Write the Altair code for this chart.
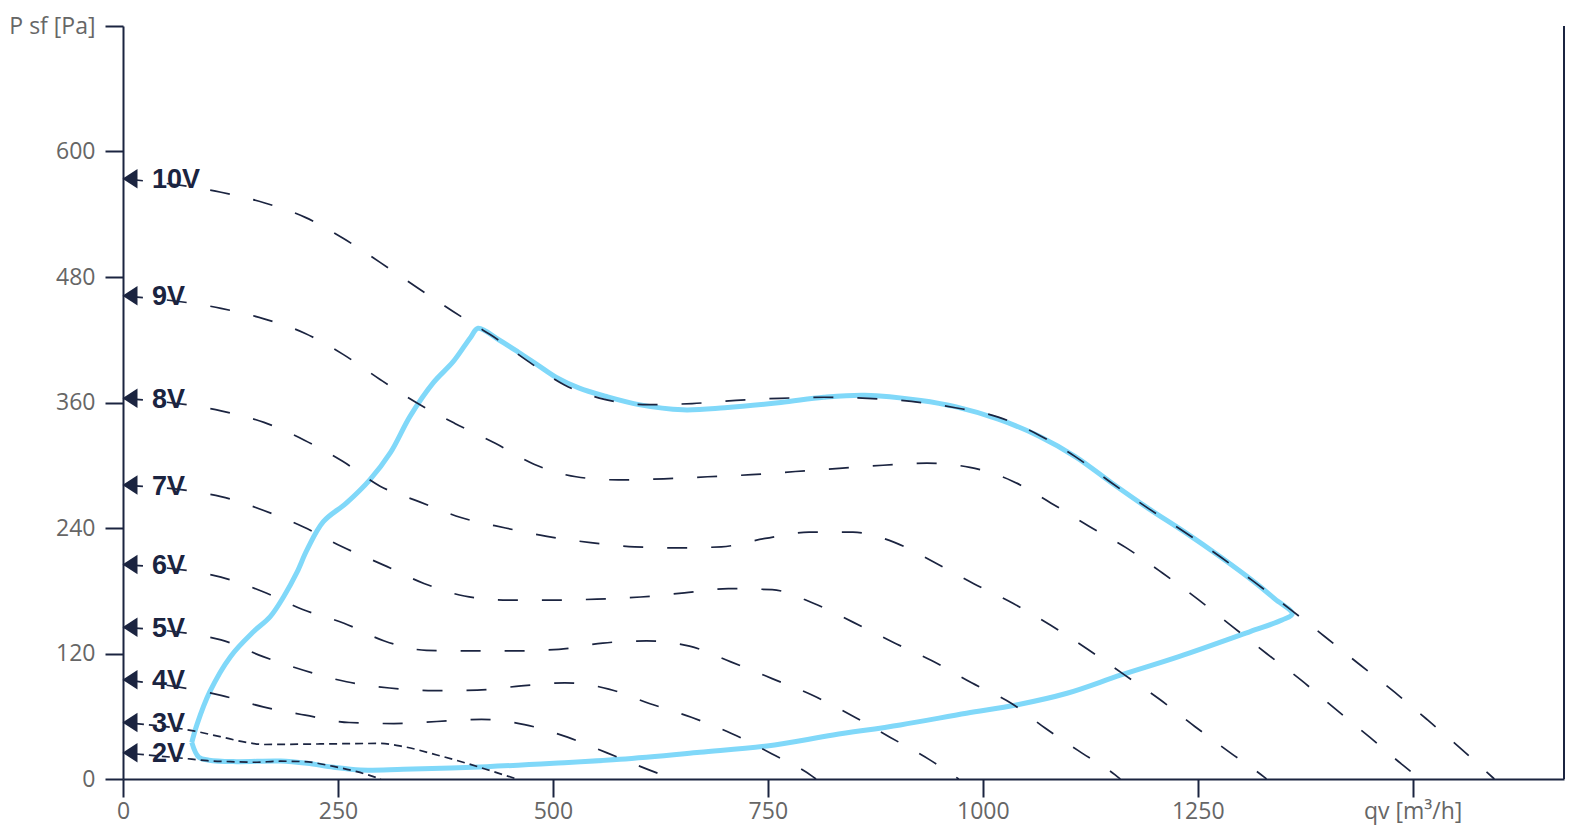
import altair as alt
import pandas as pd

NAVY = "#1b2440"
BLUE = "#80d8f9"

# Voltage curves: volume flow qv [m3/h] and static pressure P sf [Pa]
q10 = [0, 114, 164, 212, 256, 299, 342, 384, 413, 427, 470, 513, 560, 611, 662, 713, 764, 815, 866, 917, 968, 1018, 1065, 1108, 1150, 1192, 1235, 1277, 1318, 1358, 1398, 1439, 1479, 1518, 1556, 1595]
p10 = [574, 561, 551, 537, 517, 494, 470, 447, 432, 425, 400, 377, 363, 358, 359, 362, 364, 365, 364, 361, 355, 346, 329, 308, 283, 259, 236, 212, 187, 162, 136, 109, 83, 56, 29, 0]

q9 = [0, 114, 164, 212, 256, 299, 341, 386, 433, 478, 527, 576, 629, 680, 731, 782, 833, 884, 935, 985, 1034, 1079, 1123, 1167, 1209, 1250, 1290, 1330, 1371, 1410, 1450, 1489, 1509]
p9 = [462, 450, 440, 426, 406, 382, 360, 340, 321, 301, 289, 286, 287, 289, 291, 294, 297, 300, 302, 298, 285, 264, 242, 221, 197, 172, 146, 120, 94, 67, 40, 13, 0]

q8 = [0, 114, 164, 211, 255, 299, 345, 393, 445, 493, 544, 595, 645, 696, 747, 798, 849, 898, 944, 989, 1035, 1079, 1122, 1164, 1206, 1247, 1288, 1327, 1330]
p8 = [364, 352, 341, 324, 304, 280, 265, 250, 240, 232, 226, 222, 221, 222, 230, 236, 236, 226, 207, 187, 168, 147, 124, 100, 76, 50, 25, 2, 0]

q7 = [0, 114, 163, 210, 255, 302, 350, 397, 448, 499, 551, 602, 653, 704, 755, 803, 849, 895, 941, 987, 1034, 1072, 1115, 1154, 1160]
p7 = [281, 270, 257, 241, 222, 205, 187, 175, 171, 171, 172, 174, 178, 182, 181, 168, 150, 131, 113, 92, 72, 49, 25, 4, 0]

q6 = [0, 114, 163, 209, 257, 304, 353, 404, 456, 507, 558, 609, 659, 707, 755, 802, 847, 892, 937, 972]
p6 = [205, 193, 179, 162, 149, 132, 123, 122.5, 122.5, 124, 130, 132, 127, 112, 96, 80, 61, 40, 19, 0]

q5 = [0, 114, 163, 210, 260, 310, 361, 412, 463, 514, 565, 613, 661, 709, 755, 801, 806]
p5 = [145, 133, 117, 104, 93, 87, 84.5, 85, 89, 92, 86, 72, 59, 43, 24, 3, 0]

q4 = [0, 114, 163, 212, 263, 315, 365, 417, 467, 517, 563, 611, 640]
p4 = [95, 80, 69, 61, 54, 53, 55, 57, 52, 40, 25, 9, 0]

q3 = [0, 82, 113, 144, 165, 229, 299, 326, 365, 404, 431, 458]
p3 = [54, 46, 40.5, 35, 33, 33.5, 34, 31, 23, 14, 7, 0]

q2 = [0, 80, 98, 125, 152, 183, 210, 245, 272, 300]
p2 = [25, 19, 17.5, 16.6, 16, 17, 16.6, 12, 7, 0]

# Operating envelope (closed loop)
env_q = [80, 88, 100, 132, 183, 214, 245, 276, 326, 423, 501, 578, 671, 749, 826, 904, 981, 1039, 1098, 1161, 1228, 1311, 1348, 1360,
         1340, 1318, 1277, 1235, 1192, 1150, 1108, 1065, 1018, 968, 928, 863, 815, 765, 700, 651, 600, 561, 530, 504, 482, 460, 437, 413,
         404, 384, 361, 334, 311, 287, 260, 233, 214, 202, 187, 171, 152, 125, 101, 86, 80]
env_p = [35, 21, 18, 16.6, 17.2, 15, 11.2, 8.6, 9.3, 11.8, 15, 18.8, 25.5, 31.6, 42, 51.7, 62.9, 70.8, 82, 99.5, 117, 141, 152, 158,
         172, 187, 212, 236, 259, 283, 308, 328, 344, 356, 362, 367, 365, 360, 355, 353, 358, 366, 374, 384, 396, 408, 420, 431,
         422, 399, 379, 347, 312, 286, 264, 246, 219, 197, 174.5, 155, 141, 117, 83.5, 52, 35]

long_series = [("10V", q10, p10), ("9V", q9, p9), ("8V", q8, p8), ("7V", q7, p7),
               ("6V", q6, p6), ("5V", q5, p5), ("4V", q4, p4)]
short_series = [("3V", q3, p3), ("2V", q2, p2)]

x_ticks = [0, 250, 500, 750, 1000, 1250, 1500]
y_ticks = [0, 120, 240, 360, 480, 600, 720]
X_MAX = 1676
Y_MAX = 720


def frame(series):
    rows = []
    for name, qs, ps in series:
        for q, p in zip(qs, ps):
            rows.append({"series": name, "q": q, "p": p})
    return pd.DataFrame(rows)


long_df = frame(long_series)
short_df = frame(short_series)
env_df = pd.DataFrame({"q": env_q, "p": env_p, "i": list(range(len(env_q)))})
lab_df = pd.DataFrame({"label": [s[0] for s in long_series + short_series],
                       "q": [s[1][0] for s in long_series + short_series],
                       "p": [s[2][0] for s in long_series + short_series]})

x_scale = alt.Scale(domain=[0, X_MAX], nice=False, zero=True)
y_scale = alt.Scale(domain=[0, Y_MAX], nice=False, zero=True)

x_axis = alt.Axis(values=x_ticks, format="d", title=None, grid=False,
                  labelExpr="datum.value == 1500 ? 'qv [m³/h]' : datum.label",
                  labelFont="Open Sans", labelFontSize=23, labelColor="#666666",
                  labelPadding=3, labelOverlap=False, labelFlush=False,
                  domainColor=NAVY, domainWidth=2, tickColor=NAVY, tickWidth=2, tickSize=18)
y_axis = alt.Axis(values=y_ticks, format="d", title=None, grid=False,
                  labelExpr="datum.value == 720 ? 'P sf [Pa]' : datum.label",
                  labelFont="Open Sans", labelFontSize=23, labelColor="#666666",
                  labelPadding=10, labelOverlap=False, labelFlush=False,
                  domainColor=NAVY, domainWidth=2, tickColor=NAVY, tickWidth=2, tickSize=18)

X = alt.X("q:Q", scale=x_scale, axis=x_axis)
Y = alt.Y("p:Q", scale=y_scale, axis=y_axis)

envelope = alt.Chart(env_df).mark_line(
    color=BLUE, strokeWidth=5, interpolate="catmull-rom"
).encode(x=X, y=Y, order="i:Q")

long_lines = alt.Chart(long_df).mark_line(
    color=NAVY, strokeWidth=1.7, strokeDash=[20, 24], interpolate="monotone"
).encode(x=X, y=Y, detail="series:N")

short_lines = alt.Chart(short_df).mark_line(
    color=NAVY, strokeWidth=1.7, strokeDash=[8, 5], interpolate="monotone"
).encode(x=X, y=Y, detail="series:N")

arrows = alt.Chart(lab_df).mark_point(
    shape="M-0.77,0L0.77,-1L0.77,1Z", size=380, filled=True, opacity=1,
    color=NAVY, strokeWidth=0, xOffset=7
).encode(x=X, y=Y)

labels = alt.Chart(lab_df).mark_text(
    align="left", baseline="alphabetic", dx=29, dy=9.5,
    font="Liberation Sans", fontWeight="bold", fontSize=27, color=NAVY
).encode(x=X, y=Y, text="label:N")

right_edge = alt.Chart(lab_df).mark_rule(color=NAVY, strokeWidth=2).encode(
    x=alt.datum(X_MAX, scale=x_scale)
)

chart = alt.layer(
    envelope, long_lines, short_lines, labels, arrows, right_edge
).properties(
    width=1441, height=753,
    padding={"left": 115, "top": 18, "right": 16, "bottom": 55},
    autosize=alt.AutoSizeParams(type="none"),
).configure_view(stroke=None)

chart.save("out.html", embed_options={"renderer": "svg", "actions": False})
